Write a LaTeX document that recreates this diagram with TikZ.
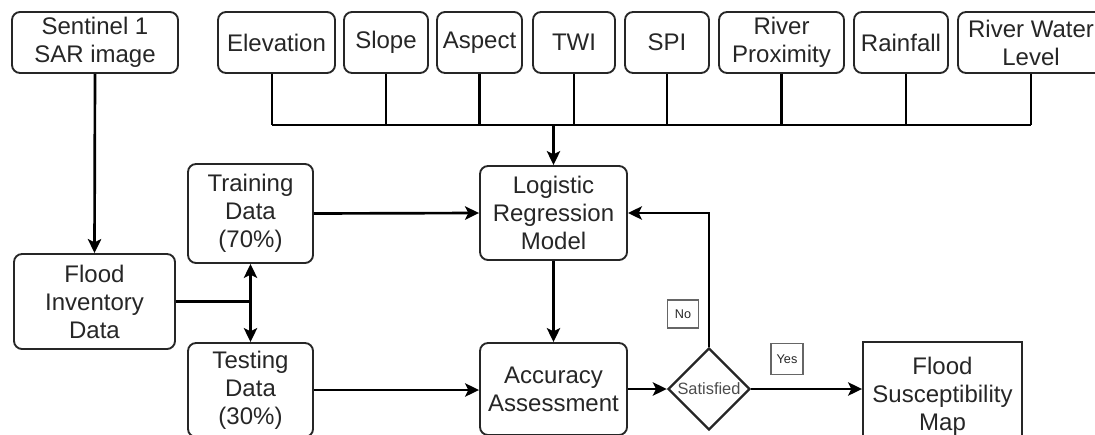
\documentclass[tikz,border=0pt]{standalone}
\usepackage{fontspec}
\setmainfont{Liberation Sans}
\usetikzlibrary{shapes.geometric,arrows.meta}
\definecolor{ink}{HTML}{262626}
\tikzset{
  x=0.75pt, y=-0.75pt,
  sz/.style 2 args={minimum width=#1*0.75pt, minimum height=#2*0.75pt},
  box/.style={draw=ink, line width=1.4pt, rounded corners=6pt, align=center,
    text=ink, inner sep=0pt, font=\fontsize{18}{21}\selectfont},
  sqbox/.style={box, rounded corners=0pt},
  tag/.style={draw=black!60, line width=0.9pt, inner sep=0pt, text=ink,
    font=\fontsize{9.5}{11}\selectfont},
  decision/.style={draw=ink, line width=1.8pt, diamond, aspect=1, inner sep=0pt,
    text=black!70, font=\fontsize{12.3}{14}\selectfont},
  wire/.style={line width=2pt, black},
  arr/.style={wire, -{Stealth[length=10.5pt, width=10pt, inset=2.5pt]}},
}
\begin{document}
\begin{tikzpicture}
\useasboundingbox (0,0) rectangle (1095,435);

% data source
\node[box, sz={166}{61}] (sar) at (95,42.5) {Sentinel 1\\SAR image};

% conditioning factors
\node[box, sz={117}{61}] (elev)   at (276.5,42.5) {Elevation};
\node[box, sz={84}{61}]  (slope)  at (386,42.5)   {Slope};
\node[box, sz={85}{61}]  (aspect) at (479.5,42.5) {Aspect};
\node[box, sz={82}{61}]  (twi)    at (574,42.5)   {TWI};
\node[box, sz={84}{61}]  (spi)    at (667,42.5)   {SPI};
\node[box, sz={125}{61}] (rprox)  at (781.5,42.5) {River\\Proximity};
\node[box, sz={94}{61}]  (rain)   at (901,42.5)   {Rainfall};
\node[box, sz={146}{61}] (rwl)    at (1031,42.5)  {River Water\\Level};

% workflow
\node[box, sz={161}{95}] (inv)   at (94.5,301.5) {Flood\\Inventory\\Data};
\node[box, sz={125}{99}] (train) at (250.5,213.5) {Training\\Data\\(70\%)};
\node[box, sz={125}{94}] (test)  at (250.5,390)   {Testing\\Data\\(30\%)};
\node[box, sz={147}{94}] (logit) at (553.5,213)   {Logistic\\Regression\\Model};
\node[box, sz={147}{92}] (acc)   at (553.5,389)   {Accuracy\\Assessment};
\node[decision, sz={82}{82}] (sat) at (709,389) {Satisfied};
\node[sqbox, sz={159}{108}] (fsm) at (942.5,396) {Flood\\Susceptibility\\Map};

\node[tag, sz={31}{28}] (no)  at (683,314) {No};
\node[tag, sz={32}{31}] (yes) at (787,359) {Yes};

% factor bus into the model
\coordinate (bus) at (logit.north |- 0,125);
\coordinate (elevdrop) at ([xshift=-3.4pt]elev.south);
\coordinate (raindrop) at ([xshift=3.8pt]rain.south);
\foreach \f in {slope,aspect,twi,spi,rprox,rwl}
  \draw[wire] (\f.south) -- (\f.south |- bus);
\draw[wire] (elevdrop) -- (elevdrop |- bus);
\draw[wire] (raindrop) -- (raindrop |- bus);
\draw[wire] (elevdrop |- bus) -- (rwl.south |- bus);
\draw[arr] (bus) -- (logit.north);

% inventory and split
\draw[arr] (sar.south) -- (inv.north);
\coordinate (split) at (train.south |- inv.east);
\draw[wire] (inv.east) -- (split);
\draw[arr] (split) -- (train.south);
\draw[arr] (split) -- (test.north);

% model loop
\draw[arr] (train.east) -- (logit.west);
\draw[arr] (test.east) -- (test.east -| acc.west);
\draw[arr] (logit.south) -- (acc.north);
\draw[arr] (acc.east) -- (sat.west);
\draw[arr] (sat.north) |- (logit.east);
\draw[arr] (sat.east) -- (sat.east -| fsm.west);
\end{tikzpicture}
\end{document}
